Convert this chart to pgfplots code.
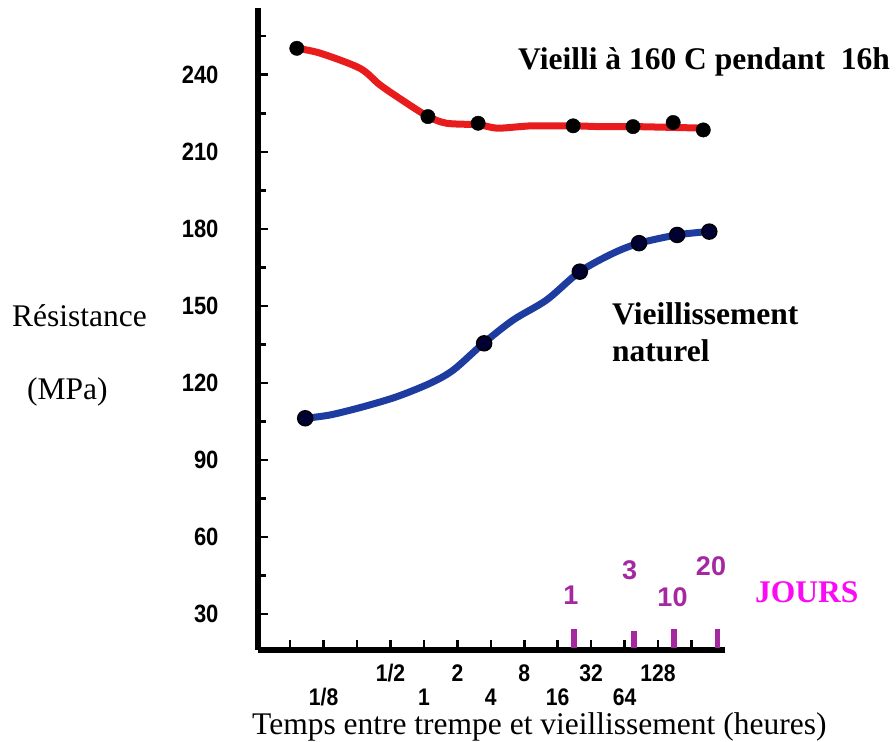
\documentclass[border=0pt]{standalone}
\usepackage{fontspec}
\setmainfont{Liberation Serif}
\newfontfamily\ticksf[FakeStretch=0.88]{Liberation Sans}
\newfontfamily\daysf{Liberation Sans}
\usepackage{pgfplots}
\pgfplotsset{compat=1.18}
\definecolor{redline}{RGB}{232,28,28}
\definecolor{blueline}{RGB}{30,60,160}
\definecolor{daypurple}{RGB}{165,40,160}
\definecolor{joursmag}{RGB}{250,10,245}
\begin{document}
\begin{tikzpicture}
\path[use as bounding box] (0,0) rectangle (896bp,742bp);
\begin{axis}[
  at={(258bp,92bp)}, anchor=south west,
  scale only axis, width=467bp, height=642bp,
  xmin=-4.96, xmax=9, ymin=15.94, ymax=266,
  axis x line=bottom, axis y line=left,
  axis line style={-, line width=5.5bp, black},
  tick align=inside, major tick length=10bp, minor tick length=8bp,
  tick style={black, line width=2.5bp},
  ytick={30,60,...,240}, yticklabels={30,60,90,120,150,180,210,240},
  minor ytick={45,75,...,255},
  xtick={-4,-2,-1,1,3,5,7,8},
  xticklabels={,,1/2,2,8,32,128,},
  extra x ticks={-3,0,2,4,6},
  extra x tick labels={1/8,1,4,16,64},
  extra x tick style={xticklabel style={yshift=-24bp}},
  yticklabel style={font=\ticksf\bfseries\fontsize{25bp}{25bp}\selectfont, anchor=east, xshift=-36bp},
  xticklabel style={font=\ticksf\bfseries\fontsize{24bp}{24bp}\selectfont, anchor=north, yshift=-11bp},
  clip=false,
]
% red line: aged at 160 C for 16 h
\addplot[redline, line width=7bp, smooth, tension=0.5] coordinates {
 (-3.80,250.3) (-3.10,248.4) (-1.91,242.5) (-1.31,236.0) (-0.51,228.9)
 (0.13,223.7) (0.68,221.1) (1.63,220.5) (2.18,219.2) (2.88,219.8)
 (3.27,220.1) (4.47,220.1) (5.27,219.8) (6.24,219.8) (7.06,219.6) (8.35,219.2)};
% blue line: natural aging
\addplot[blueline, line width=7bp, smooth, tension=0.5] coordinates {
 (-3.55,106.2) (-2.80,107.5) (-1.81,110.7) (-0.81,114.6) (0.18,119.8)
 (0.88,125.0) (1.78,135.4) (2.67,144.5) (3.67,152.3) (4.66,163.3)
 (5.66,170.5) (6.44,174.4) (7.56,177.6) (8.50,178.9)};
% markers
\addplot[only marks, mark=*, mark size=7.2bp, mark options={fill=black, draw=black}] coordinates {
 (-3.80,250.3) (0.12,223.7) (1.62,221.1) (4.46,220.1) (6.25,219.8) (7.45,221.4) (8.35,218.5)};
\addplot[only marks, mark=*, mark size=7.5bp, mark options={fill=black!80!blue, draw=black, line width=1.5bp}] coordinates {
 (-3.55,106.2) (1.80,135.4) (4.66,163.3) (6.43,174.4) (7.57,177.6) (8.53,178.9)};
% day marks
\addplot[daypurple, line width=5.5bp] coordinates {(4.49,16.8) (4.49,24.2)};
\addplot[daypurple, line width=5.5bp] coordinates {(6.28,16.8) (6.28,23.5)};
\addplot[daypurple, line width=5.5bp] coordinates {(7.48,16.8) (7.48,24.2)};
\addplot[daypurple, line width=5.5bp] coordinates {(8.78,16.8) (8.78,24.2)};
\end{axis}
% texts
\node[anchor=base west, inner sep=0, font=\bfseries\fontsize{31.5bp}{36bp}\selectfont] at (518bp,672bp) {Vieilli à 160 C pendant~ 16h};
\node[anchor=base west, inner sep=0, font=\fontsize{31.5bp}{36bp}\selectfont] at (12bp,415bp) {Résistance};
\node[anchor=base west, inner sep=0, font=\fontsize{31.5bp}{36bp}\selectfont] at (27bp,342bp) {(MPa)};
\node[anchor=base west, inner sep=0, font=\bfseries\fontsize{31.5bp}{36bp}\selectfont] at (612bp,417bp) {Vieillissement};
\node[anchor=base west, inner sep=0, font=\bfseries\fontsize{31.5bp}{36bp}\selectfont] at (612bp,380bp) {naturel};
\node[anchor=base west, inner sep=0, text=joursmag, font=\bfseries\fontsize{31.5bp}{36bp}\selectfont] at (755bp,139bp) {JOURS};
\node[anchor=base west, inner sep=0, font=\fontsize{31.5bp}{36bp}\selectfont] at (252bp,8bp) {Temps entre trempe et vieillissement (heures)};
\node[inner sep=0, text=daypurple, font=\daysf\bfseries\fontsize{27bp}{27bp}\selectfont] at (571bp,146.5bp) {1};
\node[inner sep=0, text=daypurple, font=\daysf\bfseries\fontsize{27bp}{27bp}\selectfont] at (629.5bp,171.5bp) {3};
\node[inner sep=0, text=daypurple, font=\daysf\bfseries\fontsize{27bp}{27bp}\selectfont] at (672.5bp,145bp) {10};
\node[inner sep=0, text=daypurple, font=\daysf\bfseries\fontsize{27bp}{27bp}\selectfont] at (711bp,175.5bp) {20};
\end{tikzpicture}
\end{document}
